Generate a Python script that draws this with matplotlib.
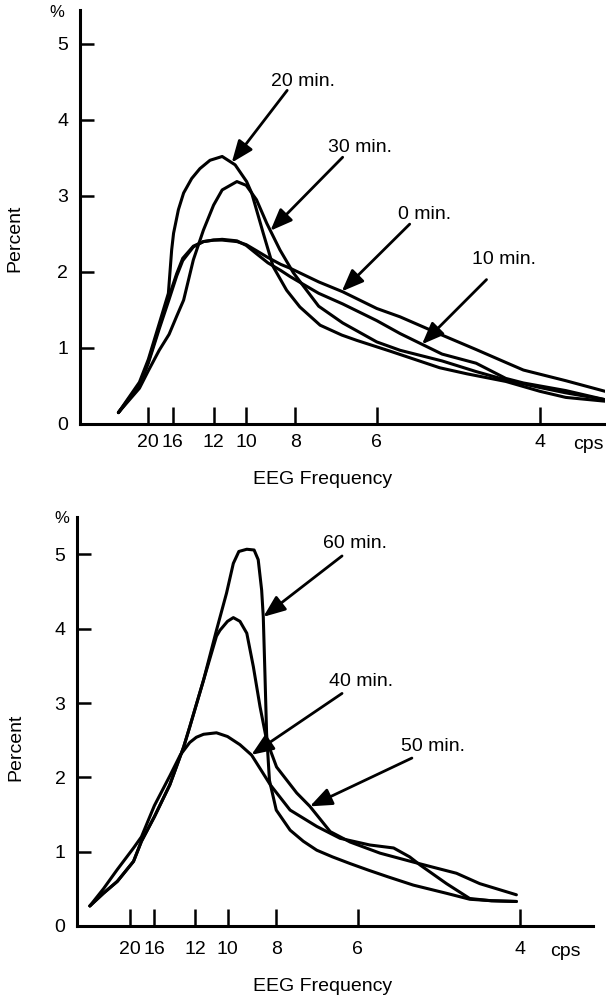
import matplotlib
matplotlib.use("Agg")
import matplotlib.pyplot as plt
import numpy as np

plt.rcParams['font.family'] = ['Liberation Sans', 'DejaVu Sans']

tick_cps = [20, 16, 12, 10, 8, 6, 4]
tick_pct = [0, 1, 2, 3, 4, 5]

# upper panel: 0, 10, 20, 30 min (EEG frequency in cps, percent)
cps_top = [28.8, 22, 20, 18, 16.5, 15.5, 14.8, 13.7, 12.8, 12, 11.4, 10.5, 10, 9.5, 9, 8.5, 8.17,
           7.3, 6.7, 6, 5.6, 5.0, 4.6, 4.3, 4.14, 3.8, 3.53]
pct_0min = [0.15, 0.52, 0.82, 1.28, 1.68, 1.98, 2.18, 2.34, 2.40, 2.42, 2.42, 2.40, 2.36, 2.28, 2.19,
            2.10, 2.05, 1.87, 1.74, 1.52, 1.41, 1.17, 0.98, 0.81, 0.71, 0.57, 0.43]
pct_10min = [0.15, 0.50, 0.80, 1.25, 1.64, 1.95, 2.15, 2.33, 2.40, 2.42, 2.43, 2.41, 2.35, 2.24, 2.12,
             2.02, 1.94, 1.72, 1.58, 1.36, 1.19, 0.92, 0.80, 0.60, 0.54, 0.44, 0.32]

cps_20min = [28.8, 22, 20, 18, 16.6, 16.15, 15.9, 15.3, 14.7, 13.86, 13.1, 12.27, 11.4, 10.6, 9.98,
             9.73, 9.2, 8.79, 8.29, 7.85, 7.26, 6.72, 6.39, 5.77, 5.03, 4.7, 4.3, 4.0, 3.8, 3.53]
pct_20min = [0.15, 0.55, 0.85, 1.32, 1.72, 2.29, 2.51, 2.82, 3.04, 3.23, 3.36, 3.47, 3.52, 3.41, 3.19,
             3.04, 2.51, 2.07, 1.76, 1.54, 1.30, 1.17, 1.10, 0.96, 0.74, 0.66, 0.56, 0.43, 0.35, 0.30]

cps_30min = [28.8, 22, 20, 18, 16.5, 15.5, 14.7, 13.7, 12.8, 12, 11.4, 10.5, 10, 9.5, 9.05, 8.53, 8.06,
             7.3, 6.7, 6.0, 5.6, 5.0, 4.6, 4.3, 4.0, 3.8, 3.53]
pct_30min = [0.15, 0.47, 0.70, 0.97, 1.18, 1.42, 1.63, 2.16, 2.55, 2.88, 3.08, 3.19, 3.14, 2.95, 2.64,
             2.29, 1.99, 1.55, 1.33, 1.08, 0.97, 0.83, 0.69, 0.58, 0.48, 0.41, 0.32]

# lower panel: 40, 50, 60 min
cps_40min = [34, 27.5, 23, 19.3, 17.9, 16, 14.2, 13.2, 12.4, 11.9, 11.4, 10.6, 10.0, 9.4, 8.9, 8.5,
             8.2, 7.57, 6.86, 6.34, 5.78, 5.4, 5.17, 5.03, 4.71, 4.46, 4.25, 4.03]
pct_40min = [0.27, 0.50, 0.76, 1.05, 1.20, 1.62, 2.02, 2.30, 2.47, 2.54, 2.58, 2.60, 2.55, 2.44, 2.30,
             2.08, 1.90, 1.56, 1.34, 1.18, 1.09, 1.05, 0.93, 0.82, 0.57, 0.37, 0.34, 0.33]

cps_50min = [34, 27.5, 23, 19.3, 17.9, 16, 14.2, 12.9, 12.4, 11.4, 10.6, 10.4, 10.0, 9.71, 9.4, 9.1,
             8.83, 8.57, 8.33, 7.99, 7.38, 7.03, 6.55, 6.14, 5.61, 5.12, 4.9, 4.6, 4.36, 4.03]
pct_50min = [0.27, 0.44, 0.60, 0.87, 1.14, 1.47, 1.90, 2.41, 2.68, 3.31, 3.90, 3.98, 4.10, 4.15, 4.10,
             3.94, 3.49, 2.95, 2.50, 2.14, 1.79, 1.61, 1.27, 1.13, 0.98, 0.86, 0.80, 0.71, 0.57, 0.42]

cps_60min = [34, 27.5, 23, 19.3, 17.9, 16, 14.2, 12.9, 12.4, 11.4, 10.6, 10.05, 9.71, 9.45, 9.1, 8.8,
             8.64, 8.51, 8.45, 8.39, 8.33, 8.23, 8.0, 7.57, 7.2, 6.86, 6.5, 6.14, 5.8, 5.48, 5.12, 4.71,
             4.46, 4.25, 4.03]
pct_60min = [0.27, 0.44, 0.60, 0.87, 1.14, 1.47, 1.90, 2.41, 2.68, 3.31, 3.98, 4.48, 4.88, 5.04, 5.07,
             5.06, 4.93, 4.52, 4.16, 3.40, 2.59, 1.96, 1.56, 1.29, 1.14, 1.02, 0.93, 0.84, 0.75, 0.66,
             0.55, 0.44, 0.36, 0.34, 0.33]


def period(cps):
    # the frequency axis is drawn linear in 1/f
    return 1.0 / np.asarray(cps, dtype=float)


def note(ax, label, text_at, start_at, tip_cps, cps, pct):
    tip = (period(tip_cps), np.interp(period(tip_cps), period(cps), pct))
    ax.annotate('', xy=tip, xytext=(period(start_at[0]), start_at[1]),
                arrowprops=dict(arrowstyle='-|>,head_length=0.95,head_width=0.38', color='black',
                                lw=2.0, shrinkA=0, shrinkB=0, mutation_scale=14))
    ax.text(period(text_at[0]), text_at[1], label, ha='center', va='center', fontsize=14)


def panel(ax, curves, xlim, ylim, xpad, cps_x, label_x, label_y, pct_xy):
    for cps, pct in curves:
        ax.plot(period(cps), pct, color='black', lw=2.2, solid_joinstyle='round',
                solid_capstyle='round')

    ax.set_xlim(period(xlim[0]), period(xlim[1]))
    ax.set_ylim(*ylim)
    ax.set_xticks(period(tick_cps))
    ax.set_xticklabels([str(c) for c in tick_cps])
    ax.set_yticks(tick_pct)
    ax.tick_params(axis='x', direction='in', length=12, width=1.8, pad=xpad, labelsize=14)
    ax.tick_params(axis='y', direction='in', length=10, width=1.8, pad=8.5, labelsize=14)
    for side in ['top', 'right']:
        ax.spines[side].set_visible(False)
    for side in ['left', 'bottom']:
        ax.spines[side].set_linewidth(2.2)

    ax.annotate('cps', xy=(cps_x, 0), xycoords='axes fraction', xytext=(0, -xpad - 1.5),
                textcoords='offset points', ha='center', va='top', fontsize=14)
    ax.text(pct_xy[0], pct_xy[1], '%', transform=ax.transAxes, ha='center', va='center', fontsize=12)
    ax.set_xlabel('EEG Frequency', fontsize=14)
    ax.xaxis.set_label_coords(*label_x)
    ax.xaxis.label.set_verticalalignment('center')
    ax.set_ylabel('Percent', fontsize=14)
    ax.yaxis.set_label_coords(*label_y)
    ax.yaxis.label.set_verticalalignment('center')


def main():
    fig = plt.figure(figsize=(6.06, 10), dpi=100)
    ax1 = fig.add_axes([0.1320, 0.576, 0.8663, 0.4142])
    ax2 = fig.add_axes([0.1276, 0.074, 0.8510, 0.4087])

    panel(ax1, [(cps_top, pct_0min), (cps_top, pct_10min), (cps_20min, pct_20min), (cps_30min, pct_30min)],
          (66.2, 3.531), (0, 5.45), 7, 0.968, (0.463, -0.135), (-0.124, 0.449), (-0.044, 0.993))
    note(ax1, '20 min.', (7.75, 4.51), (8.27, 4.39), 10.8, cps_20min, pct_20min)
    note(ax1, '30 min.', (6.33, 3.64), (6.70, 3.51), 8.9, cps_30min, pct_30min)
    note(ax1, '0 min.', (5.23, 2.76), (5.45, 2.63), 6.72, cps_top, pct_0min)
    note(ax1, '10 min.', (4.32, 2.17), (4.49, 1.90), 5.27, cps_top, pct_10min)

    panel(ax2, [(cps_40min, pct_40min), (cps_50min, pct_50min), (cps_60min, pct_60min)],
          (43.5, 3.479), (0, 5.5), 11, 0.946, (0.4765, -0.149), (-0.120, 0.438), (-0.030, 0.998))
    note(ax2, '60 min.', (6.04, 5.15), (6.30, 4.98), 8.45, cps_60min, pct_60min)
    note(ax2, '40 min.', (5.93, 3.29), (6.30, 3.13), 8.91, cps_40min, pct_40min)
    note(ax2, '50 min.', (4.87, 2.41), (5.14, 2.26), 7.03, cps_50min, pct_50min)

    fig.savefig('out.png', dpi=100, facecolor='white')


if __name__ == "__main__":
    main()
